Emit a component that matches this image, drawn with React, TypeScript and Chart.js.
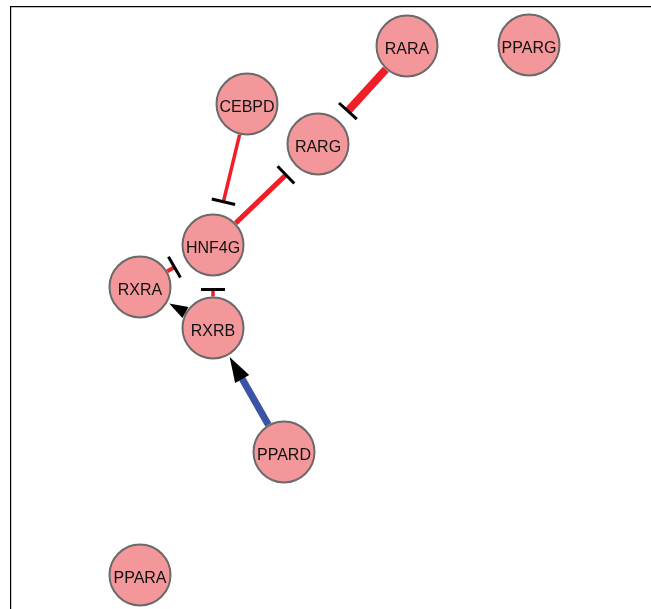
import React, { useEffect, useRef } from "react";
import { Chart, registerables } from "chart.js";

Chart.register(...registerables);

// Network nodes (positions in layout units)
const nodeNames = ["RARA", "PPARG", "RARG", "CEBPD", "HNF4G", "RXRA", "RXRB", "PPARD", "PPARA"];
const nodeX = [396, 518, 307, 236, 202, 129, 202, 273, 129];
const nodeY = [39, 38, 137, 97, 238, 280, 321, 445, 568];

// Network edges
const edgeSource = ["RARA", "HNF4G", "CEBPD", "RXRA", "RXRB", "RXRB", "PPARD"];
const edgeTarget = ["RARG", "RARG", "HNF4G", "HNF4G", "HNF4G", "RXRA", "RXRB"];
const edgeSign = [-1, -1, -1, -1, -1, 1, 1];
const edgeWeight = [8, 5, 3.5, 4, 3.5, 1, 7];

const NODE_R = 31.5;
const TBAR_OFF = 13;
const ARROW_OFF = 2;
const RED = "#ee1f26";
const BLUE = "#3a53a4";

function arrowLen(w: number) {
  return 17.5 + w * 1.1;
}
function arrowHalf(w: number) {
  return 6 + w * 0.3;
}

function idx(name: string) {
  return nodeNames.indexOf(name);
}

function edgeSegment(i: number) {
  const s = idx(edgeSource[i]);
  const t = idx(edgeTarget[i]);
  const dx = nodeX[t] - nodeX[s];
  const dy = nodeY[t] - nodeY[s];
  const L = Math.hypot(dx, dy);
  const ux = dx / L;
  const uy = dy / L;
  const endOff =
    edgeSign[i] < 0 ? NODE_R + TBAR_OFF : NODE_R + ARROW_OFF + arrowLen(edgeWeight[i]) - 1;
  return [
    { x: nodeX[s] + ux * NODE_R, y: nodeY[s] + uy * NODE_R },
    { x: nodeX[t] - ux * endOff, y: nodeY[t] - uy * endOff },
  ];
}

const markerPlugin = {
  id: "edgeMarkers",
  afterDatasetsDraw(chart: any) {
    const { ctx, scales } = chart;
    const xs = scales.x;
    const ys = scales.y;
    ctx.save();
    for (let i = 0; i < edgeSource.length; i++) {
      const s = idx(edgeSource[i]);
      const t = idx(edgeTarget[i]);
      const sx = xs.getPixelForValue(nodeX[s]);
      const sy = ys.getPixelForValue(nodeY[s]);
      const tx = xs.getPixelForValue(nodeX[t]);
      const ty = ys.getPixelForValue(nodeY[t]);
      const dx = tx - sx;
      const dy = ty - sy;
      const L = Math.hypot(dx, dy);
      const ux = dx / L;
      const uy = dy / L;
      const px = -uy;
      const py = ux;
      if (edgeSign[i] < 0) {
        const cx = tx - ux * (NODE_R + TBAR_OFF);
        const cy = ty - uy * (NODE_R + TBAR_OFF);
        const half = 12;
        ctx.beginPath();
        ctx.moveTo(cx + px * half, cy + py * half);
        ctx.lineTo(cx - px * half, cy - py * half);
        ctx.strokeStyle = "#000";
        ctx.lineWidth = 3;
        ctx.lineCap = "butt";
        ctx.stroke();
      } else {
        const w = edgeWeight[i];
        const tipX = tx - ux * (NODE_R + ARROW_OFF);
        const tipY = ty - uy * (NODE_R + ARROW_OFF);
        const bx = tipX - ux * arrowLen(w);
        const by = tipY - uy * arrowLen(w);
        const h = arrowHalf(w);
        ctx.beginPath();
        ctx.moveTo(tipX, tipY);
        ctx.lineTo(bx + px * h, by + py * h);
        ctx.lineTo(bx - px * h, by - py * h);
        ctx.closePath();
        ctx.fillStyle = "#000";
        ctx.fill();
      }
    }
    // node labels
    const meta = chart.getDatasetMeta(chart.data.datasets.length - 1);
    ctx.font = '16px "Liberation Sans", Arial, sans-serif';
    ctx.fillStyle = "#111";
    ctx.textAlign = "center";
    ctx.textBaseline = "alphabetic";
    meta.data.forEach((el: any, k: number) => {
      ctx.fillText(nodeNames[k], el.x, el.y + 8.3);
    });
    ctx.restore();
  },
};

export default function App() {
  const ref = useRef<HTMLCanvasElement | null>(null);

  useEffect(() => {
    if (!ref.current) return;
    const edgeDatasets = edgeSource.map((_, i) => ({
      type: "scatter" as const,
      data: edgeSegment(i),
      showLine: true,
      borderColor: edgeSign[i] < 0 ? RED : BLUE,
      borderWidth: edgeWeight[i],
      borderCapStyle: "butt" as const,
      pointRadius: 0,
      pointHoverRadius: 0,
      clip: false as const,
      order: 2,
    }));
    const nodeDataset = {
      type: "scatter" as const,
      data: nodeNames.map((_, k) => ({ x: nodeX[k], y: nodeY[k] })),
      pointRadius: 30.5,
      pointHoverRadius: 30.5,
      pointBackgroundColor: "#f4979a",
      pointBorderColor: "#6a6a6a",
      pointBorderWidth: 2,
      pointHoverBorderWidth: 2,
      clip: false as const,
      order: 0,
    };
    const chart = new Chart(ref.current, {
      type: "scatter",
      data: { datasets: [...edgeDatasets, nodeDataset] as any },
      options: {
        animation: false,
        responsive: false,
        events: [],
        layout: { autoPadding: false, padding: { left: 11, top: 7, right: 0, bottom: 0 } },
        plugins: { legend: { display: false }, tooltip: { enabled: false } },
        scales: {
          x: {
            type: "linear",
            min: 0,
            max: 640,
            position: "top",
            ticks: { display: false },
            grid: { display: false, drawTicks: false },
            border: { display: true, color: "#000", width: 1.2 },
          },
          y: {
            type: "linear",
            min: 0,
            max: 602,
            reverse: true,
            position: "left",
            ticks: { display: false },
            grid: { display: false, drawTicks: false },
            border: { display: true, color: "#000", width: 1.2 },
          },
        },
      },
      plugins: [markerPlugin],
    });
    return () => chart.destroy();
  }, []);

  return (
    <div
      style={{
        position: "fixed",
        left: 0,
        top: 0,
        width: 651,
        height: 609,
        background: "#fff",
      }}
    >
      <canvas ref={ref} width={651} height={609} />
    </div>
  );
}
